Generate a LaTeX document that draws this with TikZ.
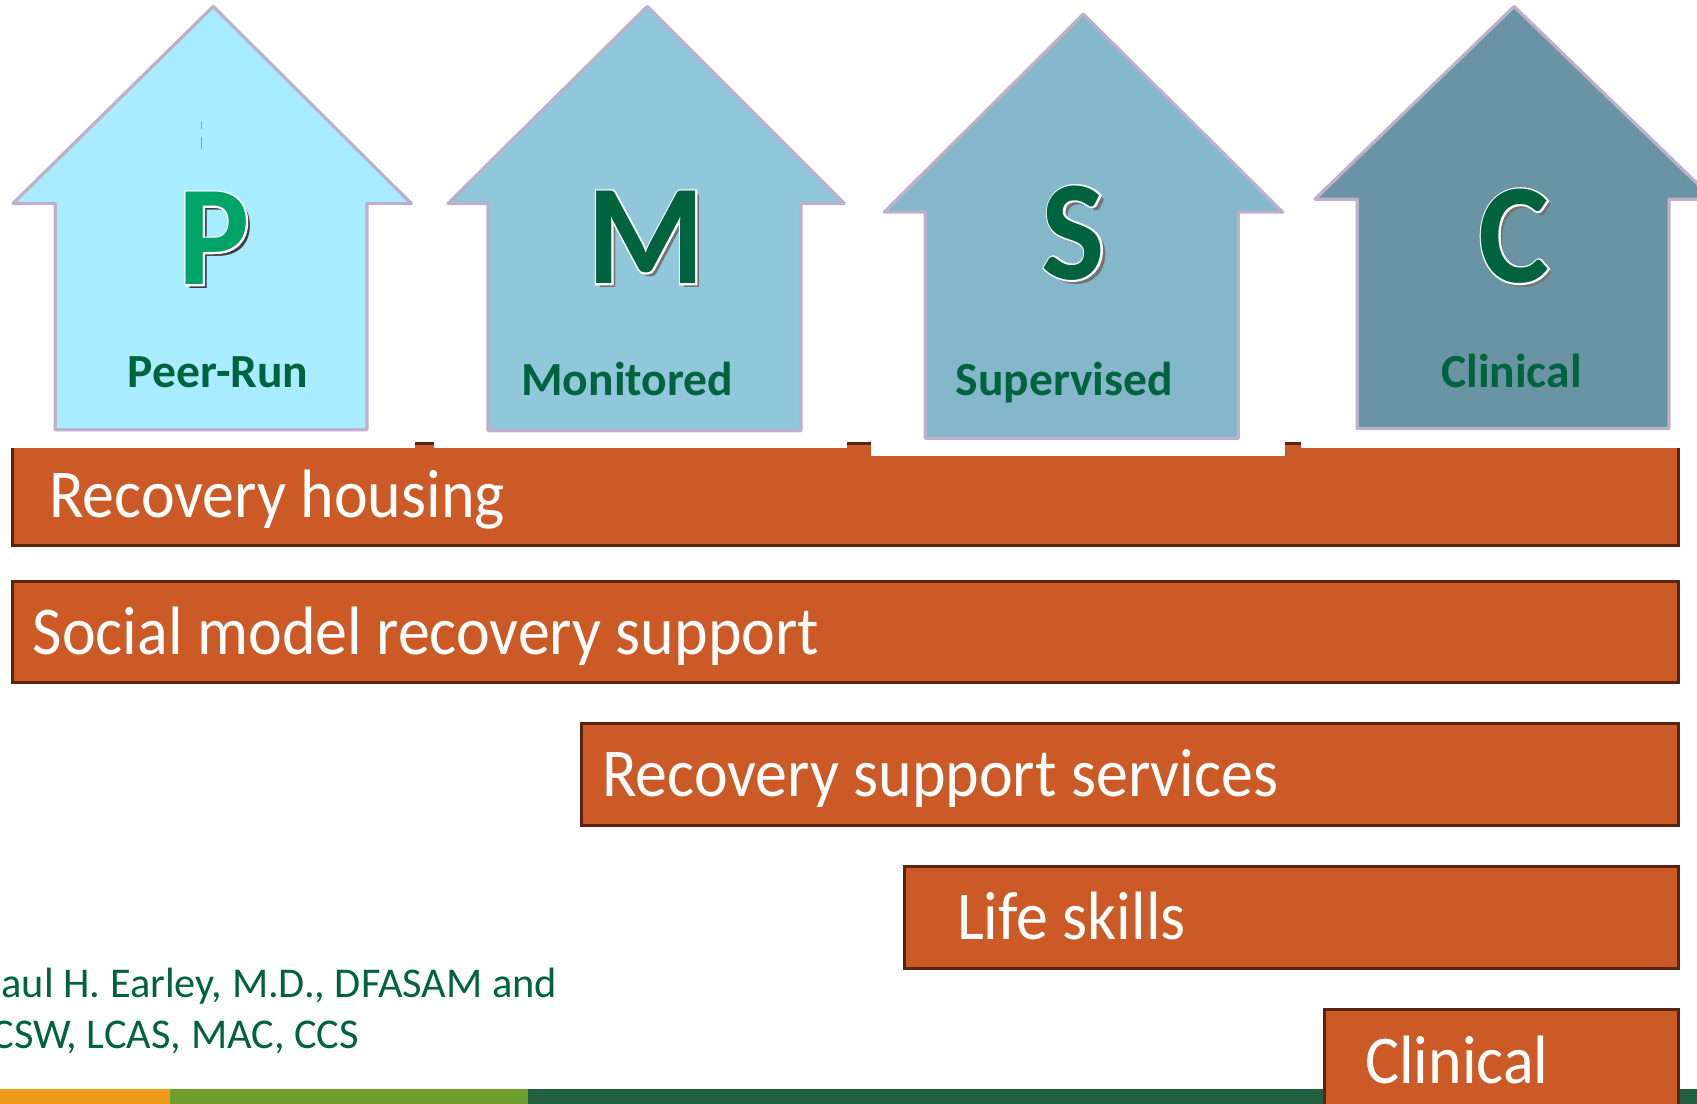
\documentclass[tikz,border=0pt]{standalone}
\usepackage{fontspec}
\setmainfont{Carlito}
\newfontfamily\barfont[FakeStretch=0.934]{Carlito}
\newfontfamily\letterfont[FakeStretch=0.94]{Carlito}
\newfontfamily\letterhalo[FakeStretch=0.94,BoldFeatures={FakeBold=2.4,FakeStretch=0.94}]{Carlito}
\definecolor{barfill}{HTML}{CC5A27}
\definecolor{barline}{HTML}{5B2410}
\definecolor{houseline}{HTML}{BDB0CC}
\definecolor{deepgreen}{HTML}{00633F}
\definecolor{brightgreen}{HTML}{00A368}
\definecolor{stripa}{HTML}{F09C1A}
\definecolor{stripb}{HTML}{6F9E2F}
\definecolor{stripc}{HTML}{216142}
\tikzset{
  x=0.02cm,y=-0.02cm,
  barbox/.style={fill=barfill,draw=barline,line width=1.5pt,line join=miter},
  bartext/.style={anchor=base west,inner sep=0pt,text=white,font=\barfont\fontsize{36}{36}\selectfont},
  housebox/.style={draw=houseline,line width=1.7pt,line join=round},
  houselabel/.style={anchor=base,inner sep=0pt,text=deepgreen,font=\bfseries\fontsize{25}{25}\selectfont},
  letterbase/.style={anchor=base,inner sep=0pt,font=\letterfont\bfseries\fontsize{75}{75}\selectfont},
  letterglow/.style={anchor=base,inner sep=0pt,text=white,font=\letterhalo\fontsize{75}{75}\selectfont},
  footer/.style={anchor=base west,inner sep=0pt,text=deepgreen,font=\fontsize{22.3}{22.3}\selectfont},
  cover/.style={fill=white,draw=none}
}
\newcommand{\bigletter}[5]{% x, baseline, letter, fill, shadow
  \node[letterbase,text=#5] at (#1+4,#2+3.5) {#3};
  \node[letterglow] at (#1,#2) {\bfseries #3};
  \node[letterbase,text=#4] (let#3) at (#1,#2) {#3};
}
\newcommand{\house}[7]{% apex x, apex y, wing y, left wing, right wing, shaft l, shaft r
  (#1,#2) -- (#5,#3) -- (#7,#3) -- (#7,\hb) -- (#6,\hb) -- (#6,#3) -- (#4,#3) -- cycle
}
\begin{document}
\begin{tikzpicture}
\useasboundingbox (0,0) rectangle (1568,1020);
\clip (0,0) rectangle (1568,1020);
\fill[white] (0,0) rectangle (1568,1020);
% bottom strip
\fill[stripa] (0,1006) rectangle (157,1020);
\fill[stripb] (157,1006) rectangle (488,1020);
\fill[stripc] (488,1006) rectangle (1568,1020);
% bars
\draw[barbox] (11.5,410) rectangle (1550.5,504);
\draw[barbox] (11.5,537.5) rectangle (1550.5,631);
\draw[barbox] (537,668.5) rectangle (1550.5,763);
\draw[barbox] (836,800.5) rectangle (1550.5,894.5);
\draw[barbox] (1224,932.5) rectangle (1550.5,1040);
% picture covers the top of the first bar
\fill[cover] (0,400) rectangle (383,414);
\fill[cover] (401,400) rectangle (783,414);
\fill[cover] (805,400) rectangle (1187,421);
\fill[cover] (1202,400) rectangle (1568,414);
% houses
\def\hb{397}
\draw[housebox,fill={rgb,255:red,169;green,235;blue,255}] \house{197}{6}{188}{12}{380}{51}{339};
\def\hb{398}
\draw[housebox,fill={rgb,255:red,144;green,199;blue,218}] \house{598}{6}{188}{414}{780}{451}{740};
\def\hb{405}
\draw[housebox,fill={rgb,255:red,132;green,183;blue,202}] \house{1001}{13}{196}{817}{1185}{855}{1144};
\def\hb{396}
\draw[housebox,fill={rgb,255:red,106;green,147;blue,163}] \house{1399}{6}{184}{1215}{1583}{1254}{1542};
% faint marks in first house
\draw[gray!60!cyan,line width=0.6pt] (186,113) -- (186,119) (186,127) -- (186,138);
% letters
\bigletter{198}{263}{P}{brightgreen}{black!75!cyan!60!black}
\bigletter{597}{262}{M}{deepgreen}{black!55}
\bigletter{992}{258}{S}{deepgreen}{black!55}
\bigletter{1399}{261}{C}{deepgreen}{black!55}
% house labels
\node[houselabel] (lp) at (201.5,358) {Peer-Run};
\node[houselabel] (lm) at (579.5,365) {Monitored};
\node[houselabel] (ls) at (983.5,365) {Supervised};
\node[houselabel] (lc) at (1396.5,358) {Clinical};
% bar texts
\node[bartext] (b1) at (45,478) {Recovery housing};
\node[bartext] (b2) at (30,605) {Social model recovery support};
\node[bartext] (b3) at (556,736) {Recovery support services};
\node[bartext] (b4) at (884,868) {Life skills};
\node[bartext] (b5) at (1261,1001) {Clinical};
% footer text
\node[footer] (f1) at (1,922) {aul H. Earley, M.D., DFASAM and};
\node[footer] (f2) at (-8,969) {CSW, LCAS, MAC, CCS};
\end{tikzpicture}
\end{document}
